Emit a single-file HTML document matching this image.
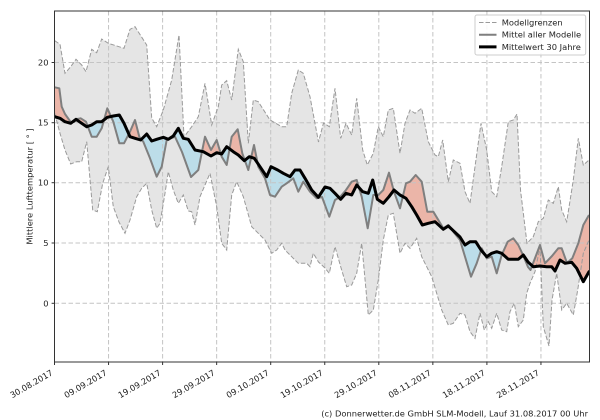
<!DOCTYPE html>
<html>
<head>
<meta charset="utf-8">
<style>
  html, body { margin: 0; padding: 0; background: #ffffff; }
  body { width: 600px; height: 420px; overflow: hidden; }
  svg { display: block; }
  text { font-family: "DejaVu Sans", "Liberation Sans", sans-serif; fill: #222; }
</style>
</head>
<body>
<svg width="600" height="420" viewBox="0 0 600 420" xmlns="http://www.w3.org/2000/svg">
  <rect x="0" y="0" width="600" height="420" fill="#ffffff"/>
  <defs>
    <clipPath id="ax"><rect x="54.5" y="11" width="535" height="351"/></clipPath>
    <clipPath id="cu"><polygon points="54.7,40.7 60,44.3 65,73.3 70.7,66.7 76,59.3 81.7,65 86,71.7 91.7,49.3 96.7,52.7 101.7,39 108.3,43.3 124,48.3 130,29.3 135,26.7 146.7,45 151.7,118 156.7,126.7 163.3,110 171.7,80 179,35 184,137 191.7,126.7 198.3,116.7 205,83.3 211.7,125 218.3,106.7 221.7,85 226.7,80.7 231.7,100 238.3,49.3 243.3,61.7 248.3,143.3 253.3,100 258.3,101.7 270,120 281.7,126.7 286.7,126.7 291.7,93.3 298.3,70 303.3,73.3 310,96.7 318.5,142 323.5,123 329.3,126.7 335,88.3 340.7,138.3 346,123.3 351.7,135 356.7,98.3 362.7,150 367.3,165 373.3,153.3 378.3,126.7 383.3,136.7 388.3,110 393.3,108.3 400,153.3 405,123.3 410,110 415,113.3 421.7,108.3 428.3,141.7 435,155 438.3,156.7 442.7,140 448.3,181.7 453.3,160 460,163.3 465,191.7 470,203.3 475,166.7 481,123.3 486.7,150 491.7,191.7 496.7,196.7 501.7,166.7 508.3,121.7 513.3,120 517,114 520.5,190 527,243.3 533.3,236.7 538.3,221.7 543.3,218.3 548.3,200 553.3,203.3 558.3,186.7 561.7,210 566.7,221.7 573.3,180 578.3,138.3 583.3,165 589,160 589,362 54.7,362"/></clipPath>
    <clipPath id="cbt"><polygon points="54.7,116.7 60,118.3 65,121.7 70.7,123.3 76,119.3 81.7,123.3 86.7,126.7 91.7,125 96.7,121.7 101.7,121.7 107.3,117.3 113.3,116 119.3,115 124,123.3 130,136.7 135,138.3 140.7,140 146.7,134 151.7,141 156.7,139.3 163.3,137.3 168.3,139.3 173.3,136 178.3,128.3 183.3,138.3 188.3,139.3 195,150 203.3,151.7 211,156 216.7,152.7 221.7,154 226.7,146.7 233.3,151.7 238.3,155 244.3,160.7 249.3,156.7 254.3,158.3 260,166.7 266.7,176.7 271,166.7 277.7,170 283.3,173.3 290,176.7 295,170 300,170 305,178.3 311.7,190 318.3,197.3 325,187 330,188.3 335,193.3 340.7,199.3 346,193.3 351.7,195 356.7,185 362.7,191.7 368.3,193.3 372.7,180 377.3,199.3 383.3,203.3 389,196.7 394,190 400,195 406,198.3 411.7,206.7 416.7,215 422.3,225 428.3,223.3 435,221.7 443.3,229.3 448.3,226 453.3,230.7 460,237 465,245 470,241.7 475.7,241.7 481,250 486.7,256.7 491.7,253.3 496.7,251.7 501.7,253.3 508.3,259.3 513.3,259.3 518.3,259.3 523.3,255 528,262 533.3,266.7 540,266 546.7,266.7 551.7,266.7 555,271 560,260 565,263.3 571.7,262.3 576.7,268.3 583.3,281.7 589,271.7 589,11 54.7,11"/></clipPath>
    <clipPath id="cbb"><polygon points="54.7,116.7 60,118.3 65,121.7 70.7,123.3 76,119.3 81.7,123.3 86.7,126.7 91.7,125 96.7,121.7 101.7,121.7 107.3,117.3 113.3,116 119.3,115 124,123.3 130,136.7 135,138.3 140.7,140 146.7,134 151.7,141 156.7,139.3 163.3,137.3 168.3,139.3 173.3,136 178.3,128.3 183.3,138.3 188.3,139.3 195,150 203.3,151.7 211,156 216.7,152.7 221.7,154 226.7,146.7 233.3,151.7 238.3,155 244.3,160.7 249.3,156.7 254.3,158.3 260,166.7 266.7,176.7 271,166.7 277.7,170 283.3,173.3 290,176.7 295,170 300,170 305,178.3 311.7,190 318.3,197.3 325,187 330,188.3 335,193.3 340.7,199.3 346,193.3 351.7,195 356.7,185 362.7,191.7 368.3,193.3 372.7,180 377.3,199.3 383.3,203.3 389,196.7 394,190 400,195 406,198.3 411.7,206.7 416.7,215 422.3,225 428.3,223.3 435,221.7 443.3,229.3 448.3,226 453.3,230.7 460,237 465,245 470,241.7 475.7,241.7 481,250 486.7,256.7 491.7,253.3 496.7,251.7 501.7,253.3 508.3,259.3 513.3,259.3 518.3,259.3 523.3,255 528,262 533.3,266.7 540,266 546.7,266.7 551.7,266.7 555,271 560,260 565,263.3 571.7,262.3 576.7,268.3 583.3,281.7 589,271.7 589,362 54.7,362"/></clipPath>
  </defs>

  <g clip-path="url(#ax)">
    <!-- model range band -->
    <polygon fill="#e5e5e5" clip-path="url(#cu)" points="54.7,113.3 60,133.3 65,150 70.7,164 76.7,161.7 81.7,161.7 86.7,141.7 92.7,210 97.3,211.7 102.7,183.3 108.3,166.7 113.3,206.7 119,222 125,233.3 130,220 136.7,196.7 141.7,188.3 146.7,183.3 151.7,210 156.7,228.3 160,223.3 165,193.3 168.3,171.7 173.3,190 178.3,203.3 183.3,195 188.3,211 191.7,211.7 195,225 200,196.7 205,185 210,173.3 216.7,206.7 221.7,243.3 226.7,250 231.7,195 236.7,181.7 243.3,196.7 251.7,226.7 256.7,231.7 265,240 271.7,253.3 276.7,250 281.7,243.3 285,250 291.7,256.7 298.3,263.3 306.7,263.3 310,266.7 313.3,253.3 318.5,262 325,268 329.3,273.3 335,246.7 340.7,266.7 346.7,286.7 351.7,285 356.7,273.3 361.7,243.3 368.3,315 373.3,310 378.3,280 383.3,240 388.3,215 393.3,213.3 400,253.3 405,243.3 410,248.3 416.7,238.3 421.7,256.7 426.7,266.7 431.7,276.7 436.7,293.3 441.7,310 448.3,325 453.3,323.3 460,313.3 465,315 470,331.7 475,338.3 480,313.3 484.3,330 488.3,321.7 491.7,328.3 496.7,313.3 501.7,330 506.7,331.7 510,311.7 514.3,303.3 518.3,326.7 523.3,320 526.7,293.3 530,283.3 535,271.7 540,247 543.3,326.7 549,346 552,300 556.7,273.3 561.7,310 566.7,303.3 573.3,315 577.7,290 583.3,253.3 589,240 589,11 54.7,11"/>

    <!-- pink: model mean above 30-year mean -->
    <polygon fill="#ebb5a8" clip-path="url(#cbt)" points="54.7,87.3 59.3,88.3 61.7,106.7 65,114 70.7,122 74,122 77,119 80.7,118.3 86,121.7 91.7,136.7 96.7,136.7 101.7,128.3 107.3,108.3 113.3,121.7 119.3,143.3 124,143.3 130,131.7 135,120 139.3,136.7 143.3,141.7 150,158.3 156.7,176.7 161.7,166.7 166.7,140 175,136.7 182,152 191,177 198.3,170 205,136.7 211,150 216.7,140 221.7,156.7 226.7,165 231.7,136.7 237.7,129.3 242.3,153.3 248.3,170 254,145 258.3,166.7 265,178.3 270,195 275,196.7 281.7,186.7 286.7,183.3 293.3,178.3 298.3,191.7 303.3,181.7 310,191.7 316.7,198.3 322,197 329.3,216.7 335,200 340,197 346,190 351.7,181.7 356.7,180 361.7,196.7 367.7,228.3 373.3,195 378.3,195 383.3,190 389,172.7 394,191.7 400,208.3 406,183.3 410,181.7 415.7,175 421.7,181.7 427.3,211.7 433.3,211.7 437.3,218.3 443.3,228.3 448.3,225 453.3,231.7 460,240 465,256.7 471,276.7 476.7,263.3 481.7,248.3 486.7,258.3 491.7,256.7 496.7,273.3 501.7,255 507.7,241.7 513.3,238.3 518.3,245 523,255 528,267 530.5,270 540,245 545,263.3 552,256 558.3,248.3 561.7,248.3 567,263 572.3,258.3 578.3,243.3 583.3,225 589,215 589,362 54.7,362"/>

    <!-- blue: model mean below 30-year mean -->
    <polygon fill="#bcdde9" clip-path="url(#cbb)" points="54.7,87.3 59.3,88.3 61.7,106.7 65,114 70.7,122 74,122 77,119 80.7,118.3 86,121.7 91.7,136.7 96.7,136.7 101.7,128.3 107.3,108.3 113.3,121.7 119.3,143.3 124,143.3 130,131.7 135,120 139.3,136.7 143.3,141.7 150,158.3 156.7,176.7 161.7,166.7 166.7,140 175,136.7 182,152 191,177 198.3,170 205,136.7 211,150 216.7,140 221.7,156.7 226.7,165 231.7,136.7 237.7,129.3 242.3,153.3 248.3,170 254,145 258.3,166.7 265,178.3 270,195 275,196.7 281.7,186.7 286.7,183.3 293.3,178.3 298.3,191.7 303.3,181.7 310,191.7 316.7,198.3 322,197 329.3,216.7 335,200 340,197 346,190 351.7,181.7 356.7,180 361.7,196.7 367.7,228.3 373.3,195 378.3,195 383.3,190 389,172.7 394,191.7 400,208.3 406,183.3 410,181.7 415.7,175 421.7,181.7 427.3,211.7 433.3,211.7 437.3,218.3 443.3,228.3 448.3,225 453.3,231.7 460,240 465,256.7 471,276.7 476.7,263.3 481.7,248.3 486.7,258.3 491.7,256.7 496.7,273.3 501.7,255 507.7,241.7 513.3,238.3 518.3,245 523,255 528,267 530.5,270 540,245 545,263.3 552,256 558.3,248.3 561.7,248.3 567,263 572.3,258.3 578.3,243.3 583.3,225 589,215 589,11 54.7,11"/>

    <!-- grid -->
    <g stroke="#c4c4c4" stroke-width="1" stroke-dasharray="4.5,2.5" fill="none">
      <line x1="54.5" y1="62.5" x2="589.5" y2="62.5"/>
      <line x1="54.5" y1="122.7" x2="589.5" y2="122.7"/>
      <line x1="54.5" y1="182.7" x2="589.5" y2="182.7"/>
      <line x1="54.5" y1="243" x2="589.5" y2="243"/>
      <line x1="54.5" y1="303.3" x2="589.5" y2="303.3"/>
      <line x1="108.55" y1="11" x2="108.55" y2="362"/>
      <line x1="162.6" y1="11" x2="162.6" y2="362"/>
      <line x1="216.65" y1="11" x2="216.65" y2="362"/>
      <line x1="270.7" y1="11" x2="270.7" y2="362"/>
      <line x1="324.75" y1="11" x2="324.75" y2="362"/>
      <line x1="378.8" y1="11" x2="378.8" y2="362"/>
      <line x1="432.85" y1="11" x2="432.85" y2="362"/>
      <line x1="486.9" y1="11" x2="486.9" y2="362"/>
      <line x1="540.95" y1="11" x2="540.95" y2="362"/>
    </g>

    <!-- band borders -->
    <g fill="none" stroke="#9a9a9a" stroke-width="1" stroke-dasharray="4.5,2">
      <polyline points="54.7,40.7 60,44.3 65,73.3 70.7,66.7 76,59.3 81.7,65 86,71.7 91.7,49.3 96.7,52.7 101.7,39 108.3,43.3 124,48.3 130,29.3 135,26.7 146.7,45 151.7,118 156.7,126.7 163.3,110 171.7,80 179,35 184,137 191.7,126.7 198.3,116.7 205,83.3 211.7,125 218.3,106.7 221.7,85 226.7,80.7 231.7,100 238.3,49.3 243.3,61.7 248.3,143.3 253.3,100 258.3,101.7 270,120 281.7,126.7 286.7,126.7 291.7,93.3 298.3,70 303.3,73.3 310,96.7 318.5,142 323.5,123 329.3,126.7 335,88.3 340.7,138.3 346,123.3 351.7,135 356.7,98.3 362.7,150 367.3,165 373.3,153.3 378.3,126.7 383.3,136.7 388.3,110 393.3,108.3 400,153.3 405,123.3 410,110 415,113.3 421.7,108.3 428.3,141.7 435,155 438.3,156.7 442.7,140 448.3,181.7 453.3,160 460,163.3 465,191.7 470,203.3 475,166.7 481,123.3 486.7,150 491.7,191.7 496.7,196.7 501.7,166.7 508.3,121.7 513.3,120 517,114 520.5,190 527,243.3 533.3,236.7 538.3,221.7 543.3,218.3 548.3,200 553.3,203.3 558.3,186.7 561.7,210 566.7,221.7 573.3,180 578.3,138.3 583.3,165 589,160"/>
      <polyline points="54.7,113.3 60,133.3 65,150 70.7,164 76.7,161.7 81.7,161.7 86.7,141.7 92.7,210 97.3,211.7 102.7,183.3 108.3,166.7 113.3,206.7 119,222 125,233.3 130,220 136.7,196.7 141.7,188.3 146.7,183.3 151.7,210 156.7,228.3 160,223.3 165,193.3 168.3,171.7 173.3,190 178.3,203.3 183.3,195 188.3,211 191.7,211.7 195,225 200,196.7 205,185 210,173.3 216.7,206.7 221.7,243.3 226.7,250 231.7,195 236.7,181.7 243.3,196.7 251.7,226.7 256.7,231.7 265,240 271.7,253.3 276.7,250 281.7,243.3 285,250 291.7,256.7 298.3,263.3 306.7,263.3 310,266.7 313.3,253.3 318.5,262 325,268 329.3,273.3 335,246.7 340.7,266.7 346.7,286.7 351.7,285 356.7,273.3 361.7,243.3 368.3,315 373.3,310 378.3,280 383.3,240 388.3,215 393.3,213.3 400,253.3 405,243.3 410,248.3 416.7,238.3 421.7,256.7 426.7,266.7 431.7,276.7 436.7,293.3 441.7,310 448.3,325 453.3,323.3 460,313.3 465,315 470,331.7 475,338.3 480,313.3 484.3,330 488.3,321.7 491.7,328.3 496.7,313.3 501.7,330 506.7,331.7 510,311.7 514.3,303.3 518.3,326.7 523.3,320 526.7,293.3 530,283.3 535,271.7 540,247 543.3,326.7 549,346 552,300 556.7,273.3 561.7,310 566.7,303.3 573.3,315 577.7,290 583.3,253.3 589,240"/>
    </g>

    <!-- mean of all models -->
    <polyline fill="none" stroke="#7f7f7f" stroke-width="2" stroke-linejoin="round" points="54.7,87.3 59.3,88.3 61.7,106.7 65,114 70.7,122 74,122 77,119 80.7,118.3 86,121.7 91.7,136.7 96.7,136.7 101.7,128.3 107.3,108.3 113.3,121.7 119.3,143.3 124,143.3 130,131.7 135,120 139.3,136.7 143.3,141.7 150,158.3 156.7,176.7 161.7,166.7 166.7,140 175,136.7 182,152 191,177 198.3,170 205,136.7 211,150 216.7,140 221.7,156.7 226.7,165 231.7,136.7 237.7,129.3 242.3,153.3 248.3,170 254,145 258.3,166.7 265,178.3 270,195 275,196.7 281.7,186.7 286.7,183.3 293.3,178.3 298.3,191.7 303.3,181.7 310,191.7 316.7,198.3 322,197 329.3,216.7 335,200 340,197 346,190 351.7,181.7 356.7,180 361.7,196.7 367.7,228.3 373.3,195 378.3,195 383.3,190 389,172.7 394,191.7 400,208.3 406,183.3 410,181.7 415.7,175 421.7,181.7 427.3,211.7 433.3,211.7 437.3,218.3 443.3,228.3 448.3,225 453.3,231.7 460,240 465,256.7 471,276.7 476.7,263.3 481.7,248.3 486.7,258.3 491.7,256.7 496.7,273.3 501.7,255 507.7,241.7 513.3,238.3 518.3,245 523,255 528,267 530.5,270 540,245 545,263.3 552,256 558.3,248.3 561.7,248.3 567,263 572.3,258.3 578.3,243.3 583.3,225 589,215"/>

    <!-- 30-year mean -->
    <polyline fill="none" stroke="#000000" stroke-width="3" stroke-linejoin="round" stroke-linecap="round" points="54.7,116.7 60,118.3 65,121.7 70.7,123.3 76,119.3 81.7,123.3 86.7,126.7 91.7,125 96.7,121.7 101.7,121.7 107.3,117.3 113.3,116 119.3,115 124,123.3 130,136.7 135,138.3 140.7,140 146.7,134 151.7,141 156.7,139.3 163.3,137.3 168.3,139.3 173.3,136 178.3,128.3 183.3,138.3 188.3,139.3 195,150 203.3,151.7 211,156 216.7,152.7 221.7,154 226.7,146.7 233.3,151.7 238.3,155 244.3,160.7 249.3,156.7 254.3,158.3 260,166.7 266.7,176.7 271,166.7 277.7,170 283.3,173.3 290,176.7 295,170 300,170 305,178.3 311.7,190 318.3,197.3 325,187 330,188.3 335,193.3 340.7,199.3 346,193.3 351.7,195 356.7,185 362.7,191.7 368.3,193.3 372.7,180 377.3,199.3 383.3,203.3 389,196.7 394,190 400,195 406,198.3 411.7,206.7 416.7,215 422.3,225 428.3,223.3 435,221.7 443.3,229.3 448.3,226 453.3,230.7 460,237 465,245 470,241.7 475.7,241.7 481,250 486.7,256.7 491.7,253.3 496.7,251.7 501.7,253.3 508.3,259.3 513.3,259.3 518.3,259.3 523.3,255 528,262 533.3,266.7 540,266 546.7,266.7 551.7,266.7 555,271 560,260 565,263.3 571.7,262.3 576.7,268.3 583.3,281.7 589,271.7"/>
  </g>

  <!-- axes frame -->
  <rect x="54.5" y="11" width="535" height="351" fill="none" stroke="#333" stroke-width="1"/>

  <!-- ticks -->
  <g stroke="#333" stroke-width="1">
    <line x1="51.6" y1="62.5" x2="54.5" y2="62.5"/>
    <line x1="51.6" y1="122.7" x2="54.5" y2="122.7"/>
    <line x1="51.6" y1="182.7" x2="54.5" y2="182.7"/>
    <line x1="51.6" y1="243" x2="54.5" y2="243"/>
    <line x1="51.6" y1="303.3" x2="54.5" y2="303.3"/>
    <line x1="54.5" y1="362" x2="54.5" y2="365"/>
    <line x1="108.55" y1="362" x2="108.55" y2="365"/>
    <line x1="162.6" y1="362" x2="162.6" y2="365"/>
    <line x1="216.65" y1="362" x2="216.65" y2="365"/>
    <line x1="270.7" y1="362" x2="270.7" y2="365"/>
    <line x1="324.75" y1="362" x2="324.75" y2="365"/>
    <line x1="378.8" y1="362" x2="378.8" y2="365"/>
    <line x1="432.85" y1="362" x2="432.85" y2="365"/>
    <line x1="486.9" y1="362" x2="486.9" y2="365"/>
    <line x1="540.95" y1="362" x2="540.95" y2="365"/>
  </g>

  <!-- y tick labels -->
  <g font-size="8.33" text-anchor="end">
    <text x="48.5" y="65.5">20</text>
    <text x="48.5" y="125.7">15</text>
    <text x="48.5" y="185.7">10</text>
    <text x="48.5" y="246">5</text>
    <text x="48.5" y="306.3">0</text>
  </g>

  <!-- x tick labels -->
  <g font-size="8.33" text-anchor="end">
    <text transform="translate(53.5,374.5) rotate(-30)">30.08.2017</text>
    <text transform="translate(107.55,374.5) rotate(-30)">09.09.2017</text>
    <text transform="translate(161.6,374.5) rotate(-30)">19.09.2017</text>
    <text transform="translate(215.65,374.5) rotate(-30)">29.09.2017</text>
    <text transform="translate(269.7,374.5) rotate(-30)">09.10.2017</text>
    <text transform="translate(323.75,374.5) rotate(-30)">19.10.2017</text>
    <text transform="translate(377.8,374.5) rotate(-30)">29.10.2017</text>
    <text transform="translate(431.85,374.5) rotate(-30)">08.11.2017</text>
    <text transform="translate(485.9,374.5) rotate(-30)">18.11.2017</text>
    <text transform="translate(539.95,374.5) rotate(-30)">28.11.2017</text>
  </g>

  <!-- y axis label -->
  <text font-size="8.33" text-anchor="middle" transform="translate(32.7,186.5) rotate(-90)">Mittlere Lufttemperatur [ ° ]</text>

  <!-- legend -->
  <rect x="475" y="15" width="110.7" height="40" rx="2" ry="2" fill="#ffffff" fill-opacity="0.85" stroke="#cccccc" stroke-width="1"/>
  <line x1="479" y1="22.5" x2="496.5" y2="22.5" stroke="#9a9a9a" stroke-width="1" stroke-dasharray="4.5,2"/>
  <line x1="479" y1="34.7" x2="496.5" y2="34.7" stroke="#7f7f7f" stroke-width="2"/>
  <line x1="479" y1="46.9" x2="496.5" y2="46.9" stroke="#000000" stroke-width="3"/>
  <g font-size="8.33">
    <text x="501.7" y="25.5">Modellgrenzen</text>
    <text x="501.7" y="37.7">Mittel aller Modelle</text>
    <text x="501.7" y="49.9">Mittelwert 30 Jahre</text>
  </g>

  <!-- footer -->
  <text x="588" y="416.5" font-size="8.33" text-anchor="end">(c) Donnerwetter.de GmbH SLM-Modell, Lauf 31.08.2017 00 Uhr</text>
</svg>
</body>
</html>
